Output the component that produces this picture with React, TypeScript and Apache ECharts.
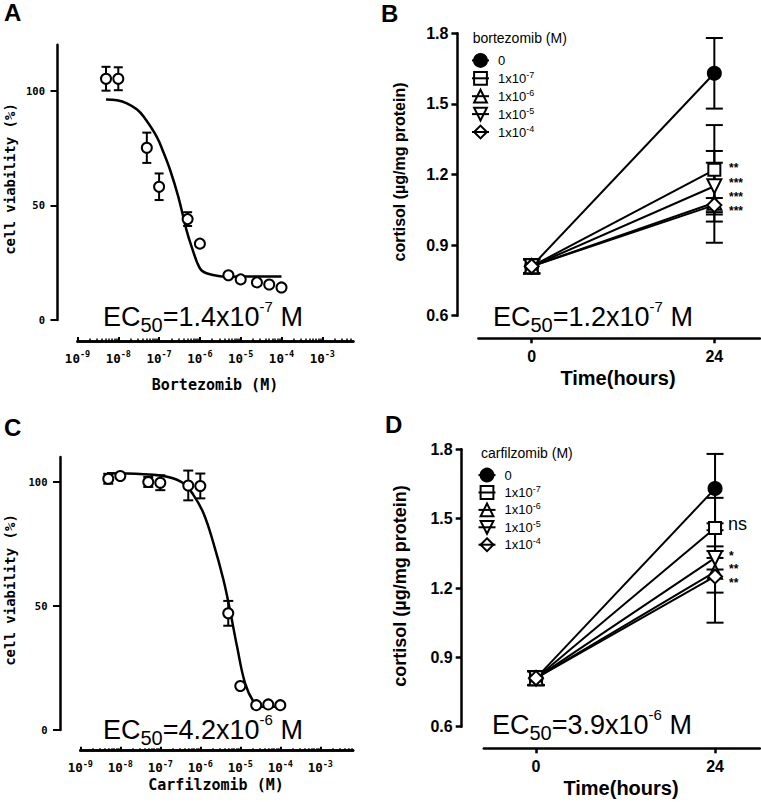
import React, { useEffect, useRef } from 'react';
import * as echarts from 'echarts';

// ---------- data ----------
const concA = [5e-9, 1e-8, 5e-8, 1e-7, 5e-7, 1e-6, 5e-6, 1e-5, 2.5e-5, 5e-5, 1e-4];
const viabilityA = [105.2, 105.2, 75.1, 58.1, 44, 33.3, 19.5, 17.7, 16.4, 15.5, 14.2];
const errA = [5.2, 5, 6.6, 5.8, 3, 0, 0, 0, 0, 0, 0];
const fitLogA = [-8.3, -8.03, -7.79, -7.54, -7.38, -7.06, -6.9, -6.73, -6.53, -6.33, -6.2, -6.0, -5.84, -5.35, -4];
const fitA = [96.2, 95.8, 94.5, 91.8, 88.7, 80, 73.4, 65.4, 53.8, 39.3, 31.8, 22.5, 20.4, 18.9, 19];

const concC = [5e-9, 1e-8, 5e-8, 1e-7, 5e-7, 1e-6, 5e-6, 1e-5, 2.5e-5, 5e-5, 1e-4];
const viabilityC = [101.2, 102.3, 99.9, 99.6, 98.5, 98.3, 47, 17.7, 10, 10.3, 10];
const errC = [2, 0, 2, 3, 6, 5, 5, 0, 0, 0, 0];
const fitLogC = [-8.33, -7.42, -6.83, -6.42, -6.17, -5.92, -5.67, -5.42, -5.25, -5.08, -4.88, -4.67, -4.5, -4];
const fitC = [103.4, 103, 102, 99.4, 94.6, 87.3, 75.2, 60.4, 47.6, 33.5, 18.8, 11.4, 9.4, 9.4];

const timeHours = [0, 24];
const doseLabels = ['0', '1x10-7', '1x10-6', '1x10-5', '1x10-4'];
const cortisolB = [[0.81, 1.63], [0.81, 1.22], [0.81, 1.08], [0.81, 1.15], [0.81, 1.07]];
const errB = [[0.03, 0.15], [0.03, 0.19], [0.03, 0.17], [0.03, 0.15], [0.03, 0.03]];
const cortisolD = [[0.81, 1.63], [0.81, 1.46], [0.81, 1.27], [0.81, 1.33], [0.81, 1.25]];
const errD = [[0.03, 0.15], [0.03, 0.13], [0.03, 0.09], [0.03, 0.05], [0.03, 0.2]];

const logTicks = [-9, -8, -7, -6, -5, -4, -3];
const viabilityTicks = [0, 50, 100];
const timeTicks = [0, 24];
const sigB = ['**', '***', '***', '***'];
const sigD = ['ns', '*', '**', '**'];

// ---------- styling ----------
const SANS = 'Arial, "Liberation Sans", Helvetica, sans-serif';
const MONO = '"DejaVu Sans Mono", "Liberation Mono", monospace';
const symbols = ['circle', 'rect', 'triangle', 'triangle', 'diamond'];
const symbolRot = [0, 0, 0, 180, 0];
const symbolSizes = [13, 12, 14, 14, 14];
const fills = ['#000', '#fff', '#fff', '#fff', '#fff'];

function minorTicks(max: number) {
  const out: number[] = [];
  for (let n = -9; n <= -3; n++) {
    for (let k = 2; k <= 9; k++) {
      const v = n + Math.log10(k);
      if (v < max) out.push(v);
    }
  }
  return out;
}

const logLabelRich = {
  b: { fontSize: 12.5, fontWeight: 'bold', fontFamily: MONO, color: '#000', lineHeight: 17 },
  s: { fontSize: 8.5, fontWeight: 'bold', fontFamily: MONO, color: '#000', lineHeight: 7, verticalAlign: 'top' },
};

function logXAxes(grid: number, max: number, offset: number) {
  return [
    {
      gridIndex: grid, type: 'value', min: -9, max, position: 'bottom', offset,
      axisLine: { show: true, onZero: false, lineStyle: { color: '#000', width: 2.5 } },
      axisTick: { show: true, inside: true, length: 4, lineStyle: { color: '#000', width: 2 }, customValues: logTicks },
      axisLabel: {
        show: true, customValues: logTicks, margin: 8.5,
        formatter: (v: number) => `{b|10}{s|${Math.round(v)}}`,
        rich: logLabelRich,
      },
      splitLine: { show: false },
    },
    {
      gridIndex: grid, type: 'value', min: -9, max, position: 'bottom', offset,
      axisLine: { show: true, onZero: false, lineStyle: { color: '#000', width: 2.5 } },
      axisTick: { show: true, inside: true, length: 2.5, lineStyle: { color: '#000', width: 1.5 }, customValues: minorTicks(max) },
      axisLabel: { show: false },
      splitLine: { show: false },
    },
  ];
}

function viabilityYAxis(grid: number, max: number, offset: number) {
  return {
    gridIndex: grid, type: 'value', min: 0, max, position: 'left', offset,
    axisLine: { show: true, onZero: false, lineStyle: { color: '#000', width: 2.5 } },
    axisTick: { show: true, length: 7, lineStyle: { color: '#000', width: 2 }, customValues: viabilityTicks },
    axisLabel: {
      show: true, customValues: viabilityTicks, margin: 12.5,
      fontFamily: MONO, fontWeight: 'bold', fontSize: 10.5, color: '#000',
    },
    splitLine: { show: false },
  };
}

function timeXAxis(grid: number, offset: number) {
  return {
    gridIndex: grid, type: 'value', min: -7, max: 30, position: 'bottom', offset,
    axisLine: { show: true, onZero: false, lineStyle: { color: '#000', width: 2.5 } },
    axisTick: { show: true, length: 5, lineStyle: { color: '#000', width: 2.5 }, customValues: timeTicks },
    axisLabel: {
      show: true, customValues: timeTicks, margin: 10,
      fontFamily: SANS, fontWeight: 'bold', fontSize: 16, color: '#000',
    },
    splitLine: { show: false },
  };
}

function cortisolYAxis(grid: number, offset: number) {
  return {
    gridIndex: grid, type: 'value', min: 0.6, max: 1.8, interval: 0.3, position: 'left', offset,
    axisLine: { show: true, onZero: false, lineStyle: { color: '#000', width: 2.5 } },
    axisTick: { show: true, length: 6, lineStyle: { color: '#000', width: 2.5 } },
    axisLabel: {
      show: true, margin: 9,
      fontFamily: SANS, fontWeight: 'bold', fontSize: 16, color: '#000',
      formatter: (v: number) => v.toFixed(1),
    },
    splitLine: { show: false },
  };
}

function errorBarSeries(xIdx: number, yIdx: number, rows: number[][], capHalf: number, lw: number) {
  return {
    type: 'custom', xAxisIndex: xIdx, yAxisIndex: yIdx, z: 3, silent: true,
    data: rows,
    encode: { x: 0, y: 1 },
    renderItem: (_params: any, api: any) => {
      const x = api.value(0);
      const y = api.value(1);
      const e = api.value(2);
      if (!e) return { type: 'group', children: [] };
      const hi = api.coord([x, y + e]);
      const lo = api.coord([x, y - e]);
      const st = { stroke: '#000', lineWidth: lw };
      return {
        type: 'group',
        children: [
          { type: 'line', shape: { x1: hi[0], y1: hi[1], x2: lo[0], y2: lo[1] }, style: st },
          { type: 'line', shape: { x1: hi[0] - capHalf, y1: hi[1], x2: hi[0] + capHalf, y2: hi[1] }, style: st },
          { type: 'line', shape: { x1: lo[0] - capHalf, y1: lo[1], x2: lo[0] + capHalf, y2: lo[1] }, style: st },
        ],
      };
    },
  };
}

function doseResponseSeries(xIdx: number, yIdx: number, conc: number[], vals: number[], errs: number[], fitX: number[], fitY: number[], cap: number) {
  const logs = conc.map((c) => Math.log10(c));
  return [
    {
      type: 'line', xAxisIndex: xIdx, yAxisIndex: yIdx, z: 2, silent: true,
      data: fitX.map((x, i) => [x, fitY[i]]),
      smooth: 0.4, symbol: 'none',
      lineStyle: { color: '#000', width: 2.5 },
    },
    errorBarSeries(xIdx, yIdx, logs.map((x, i) => [x, vals[i], errs[i]]), cap, 2),
    {
      type: 'scatter', xAxisIndex: xIdx, yAxisIndex: yIdx, z: 4, silent: true,
      data: logs.map((x, i) => [x, vals[i]]),
      symbol: 'circle', symbolSize: 10,
      itemStyle: { color: '#fff', borderColor: '#000', borderWidth: 2, opacity: 1 },
    },
  ];
}

function cortisolSeries(xIdx: number, yIdx: number, vals: number[][], errs: number[][]) {
  const lines = doseLabels.map((name, i) => ({
    name, type: 'line', xAxisIndex: xIdx, yAxisIndex: yIdx, z: 4,
    data: timeHours.map((t, j) => [t, vals[i][j]]),
    symbol: symbols[i], symbolSize: symbolSizes[i], symbolRotate: symbolRot[i],
    itemStyle: { color: fills[i], borderColor: '#000', borderWidth: 2 },
    lineStyle: { color: '#000', width: 2 },
  }));
  const rows: number[][] = [];
  doseLabels.forEach((_n, i) => timeHours.forEach((t, j) => rows.push([t, vals[i][j], errs[i][j]])));
  return [errorBarSeries(xIdx, yIdx, rows, 8.5, 2), ...lines];
}

function legendFor(left: number, top: number, gap: number) {
  return {
    data: doseLabels.map((name, i) => ({
      name,
      itemStyle: { color: i === 0 ? '#000' : 'rgba(255,255,255,0)', borderColor: '#000', borderWidth: 2 },
    })),
    left, top, orient: 'vertical', itemWidth: 17, itemHeight: 16, itemGap: gap, padding: 0,
    selectedMode: false,
    formatter: (name: string) => (name === '0' ? '{n|0}' : `{n|1x10}{s|${name.slice(4)}}`),
    textStyle: {
      color: '#000', fontFamily: SANS, fontSize: 13,
      rich: {
        n: { fontSize: 13, fontFamily: SANS, color: '#000', lineHeight: 16, padding: [0, 0, 0, 4] },
        s: { fontSize: 9, fontFamily: SANS, color: '#000', lineHeight: 10, verticalAlign: 'top' },
      },
    },
  };
}

function ec50Text(x: number, y: number, mant: string, exp: string) {
  return {
    type: 'text', x, y, silent: true,
    style: {
      text: `{m|EC}{sub|50}{m|=${mant}x10}{sup|${exp}}{m| M}`,
      align: 'left', verticalAlign: 'middle', fill: '#000',
      rich: {
        m: { fontSize: 27, lineHeight: 36, fontFamily: SANS, fill: '#000' },
        sub: { fontSize: 20, lineHeight: 24, verticalAlign: 'bottom', fontFamily: SANS, fill: '#000' },
        sup: { fontSize: 15, lineHeight: 28, verticalAlign: 'top', fontFamily: SANS, fill: '#000' },
      },
    },
  };
}

function plainText(text: string, x: number, y: number, font: string, size: number, weight: string, align = 'left', rotation = 0) {
  return {
    type: 'text', x, y, rotation, silent: true,
    style: { text, fill: '#000', fontFamily: font, fontSize: size, fontWeight: weight, align, verticalAlign: 'middle' },
  };
}

function buildOption() {
  const maxA = -2.24;
  const maxC = -2.18;
  const sigYB = [167.6, 182.6, 196.6, 210.6];
  const sigYD = [524, 555.6, 569.2, 583];
  const graphics: any[] = [
    plainText('A', 4, 12.5, SANS, 24, 'bold'),
    plainText('B', 381, 13, SANS, 24, 'bold'),
    plainText('C', 4, 427.5, SANS, 24, 'bold'),
    plainText('D', 385, 424, SANS, 24, 'bold'),
    ec50Text(103, 317, '1.4', '-7'),
    ec50Text(493, 317, '1.2', '-7'),
    ec50Text(103, 730, '4.2', '-6'),
    ec50Text(492, 725, '3.9', '-6'),
    plainText('cell viability (%)', 9.5, 179, MONO, 14, 'bold', 'center', Math.PI / 2),
    plainText('cell viability (%)', 9.5, 590, MONO, 14, 'bold', 'center', Math.PI / 2),
    plainText('Bortezomib (M)', 215, 385, MONO, 15, 'bold', 'center'),
    plainText('Carfilzomib (M)', 216, 785, MONO, 15, 'bold', 'center'),
    plainText('cortisol (µg/mg protein)', 399, 172, SANS, 16, 'bold', 'center', Math.PI / 2),
    plainText('cortisol (µg/mg protein)', 400, 586, SANS, 18, 'bold', 'center', Math.PI / 2),
    plainText('Time(hours)', 618, 378, SANS, 20, 'bold', 'center'),
    plainText('Time(hours)', 621, 788, SANS, 20, 'bold', 'center'),
    plainText('bortezomib (M)', 472.7, 38, SANS, 14, 'normal'),
    plainText('carfilzomib (M)', 481, 453.3, SANS, 14, 'normal'),
  ];
  sigB.forEach((s, i) => graphics.push(plainText(s, 729, sigYB[i], SANS, 12, 'bold')));
  sigD.forEach((s, i) =>
    graphics.push(
      s === 'ns'
        ? plainText(s, 728, sigYD[i], SANS, 18, 'normal')
        : plainText(s, 729, sigYD[i], SANS, 12, 'bold'),
    ),
  );

  return {
    animation: false,
    backgroundColor: '#fff',
    grid: [
      { left: 77.5, top: 44.8, width: 275.8, height: 275.2, outerBoundsMode: 'none' },
      { left: 478.4, top: 33.3, width: 281.6, height: 282.4, outerBoundsMode: 'none' },
      { left: 80.3, top: 456.9, width: 272.8, height: 273.1, outerBoundsMode: 'none' },
      { left: 483.8, top: 449.3, width: 276, height: 277.4, outerBoundsMode: 'none' },
    ],
    xAxis: [
      ...logXAxes(0, maxA, 21),
      timeXAxis(1, 22.6),
      ...logXAxes(2, maxC, 20.7),
      timeXAxis(3, 21.6),
    ],
    yAxis: [
      viabilityYAxis(0, 120, 20),
      cortisolYAxis(1, 21),
      viabilityYAxis(2, 110, 20.3),
      cortisolYAxis(3, 22.1),
    ],
    legend: [legendFor(471, 53, 2.5), legendFor(477.5, 467.7, 2)],
    series: [
      ...doseResponseSeries(0, 0, concA, viabilityA, errA, fitLogA, fitA, 4.5),
      ...cortisolSeries(2, 1, cortisolB, errB),
      ...doseResponseSeries(3, 2, concC, viabilityC, errC, fitLogC, fitC, 5),
      ...cortisolSeries(5, 3, cortisolD, errD),
    ],
    graphic: graphics,
  };
}

export default function App() {
  const ref = useRef<HTMLDivElement>(null);
  useEffect(() => {
    if (!ref.current) return;
    const chart = echarts.init(ref.current, null, { renderer: 'svg' });
    chart.setOption(buildOption() as any);
    return () => chart.dispose();
  }, []);
  return (
    <div
      ref={ref}
      style={{ position: 'absolute', left: 0, top: 0, width: 761, height: 802, background: '#fff' }}
    />
  );
}
